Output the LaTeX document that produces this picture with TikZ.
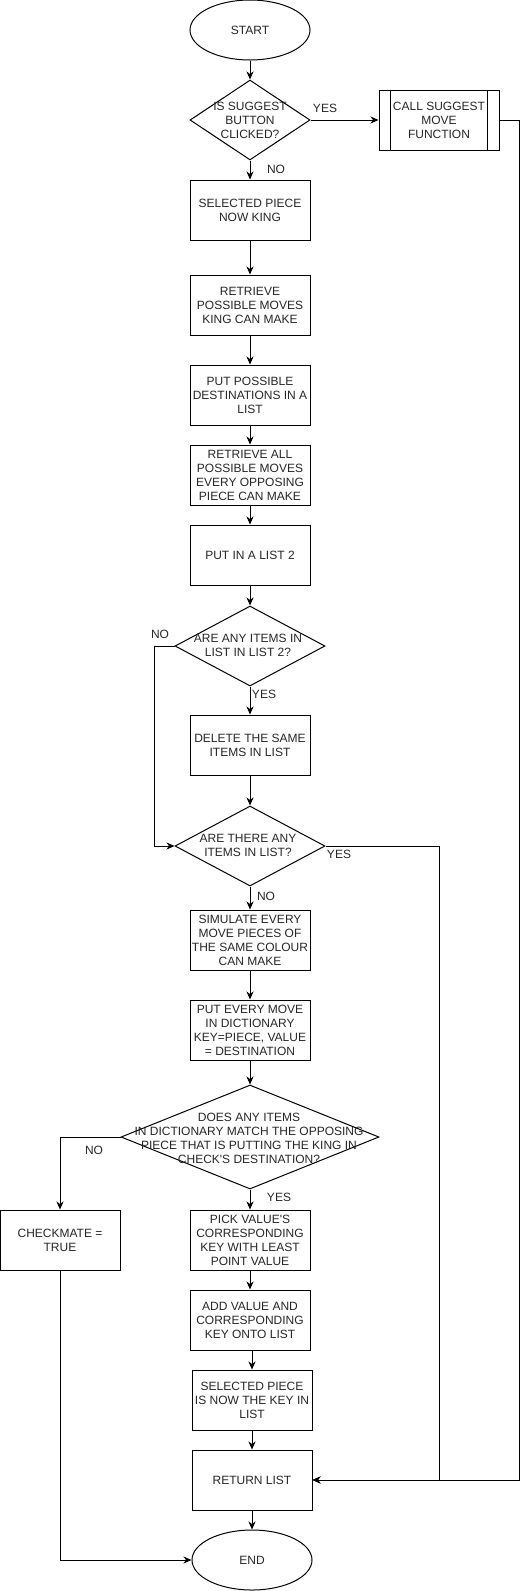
\documentclass[tikz,border=0pt]{standalone}
\usepackage{fontspec}
\setmainfont{Liberation Sans}
\usetikzlibrary{shapes.geometric,arrows.meta}
\begin{document}
\begin{tikzpicture}[x=1pt,y=-1pt,line width=1pt,
  >={Stealth[length=8pt,width=7pt,inset=2.5pt]},
  every node/.style={font=\fontsize{12}{14}\selectfont,text=black!85},
  box/.style={draw=black,rectangle,minimum width=120pt,minimum height=60pt,inner sep=0pt,align=center},
  term/.style={draw=black,ellipse,minimum width=120pt,minimum height=60pt,inner sep=0pt},
  dec/.style={draw=black,diamond,inner sep=0pt},
  dtext/.style={align=center,inner sep=0pt},
  lbl/.style={inner sep=0pt}]
\useasboundingbox (0,0) rectangle (528,1591);

\node[term] (start) at (250,30) {START};
\node[dec,minimum width=120pt,minimum height=80pt] (d1) at (250,120) {};
\node[dtext] (d1t) at (d1) {IS SUGGEST\\BUTTON\\CLICKED?};
\node[box] (call) at (439,120) {CALL SUGGEST\\MOVE\\FUNCTION};
\draw ([xshift=12pt]call.north west) -- ([xshift=12pt]call.south west);
\draw ([xshift=-12pt]call.north east) -- ([xshift=-12pt]call.south east);
\node[box] (sel) at (250,210) {SELECTED PIECE\\NOW KING};
\node[box] (ret1) at (250,305) {RETRIEVE\\POSSIBLE MOVES\\KING CAN MAKE};
\node[box] (put1) at (250,395) {PUT POSSIBLE\\DESTINATIONS IN A\\LIST};
\node[box] (ret2) at (250,475) {RETRIEVE ALL\\POSSIBLE MOVES\\EVERY OPPOSING\\PIECE CAN MAKE};
\node[box] (put2) at (250,555) {PUT IN A LIST 2};
\node[dec,minimum width=150pt,minimum height=80pt] (d2) at (250,646) {};
\node[dtext] (d2t) at (248,645) {ARE ANY ITEMS IN\\LIST IN LIST 2?};
\node[box] (del) at (250,745) {DELETE THE SAME\\ITEMS IN LIST};
\node[dec,minimum width=150pt,minimum height=80pt] (d3) at (250,846) {};
\node[dtext] (d3t) at (248,845) {ARE THERE ANY\\ITEMS IN LIST?};
\node[box] (sim) at (250,940) {SIMULATE EVERY\\MOVE PIECES OF\\THE SAME COLOUR\\CAN MAKE};
\node[box] (putev) at (250,1030) {PUT EVERY MOVE\\IN DICTIONARY\\KEY=PIECE, VALUE\\= DESTINATION};
\node[dec,minimum width=258pt,minimum height=104pt] (d4) at (250,1137) {};
\node[dtext] (d4t) at (249,1138) {DOES ANY ITEMS\\IN DICTIONARY MATCH THE OPPOSING\\PIECE THAT IS PUTTING THE KING IN\\CHECK\textquotesingle S DESTINATION?};
\node[box] (chk) at (60,1240) {CHECKMATE =\\TRUE};
\node[box] (pick) at (250,1240) {PICK VALUE\textquotesingle S\\CORRESPONDING\\KEY WITH LEAST\\POINT VALUE};
\node[box] (add) at (250,1320) {ADD VALUE AND\\CORRESPONDING\\KEY ONTO LIST};
\node[box] (key) at (252,1400) {SELECTED PIECE\\IS NOW THE KEY IN\\LIST};
\node[box] (ret) at (252,1480) {RETURN LIST};
\node[term] (end) at (252,1560) {END};

\coordinate (n2) at (154,646);
\coordinate (y3) at (439,846);
\coordinate (c1) at (519,120);

\draw[->] (start) -- (d1);
\draw[->] (d1) -- (call);
\draw[->] (d1) -- (sel);
\draw[->] (sel) -- (ret1);
\draw[->] (ret1) -- (put1);
\draw[->] (put1) -- (ret2);
\draw[->] (ret2) -- (put2);
\draw[->] (put2) -- (d2);
\draw[->] (d2) -- (del);
\draw[->] (d2.west) -- (n2) |- (d3.west);
\draw[->] (del) -- (d3);
\draw[->] (d3.east) -- (y3) |- (ret.east);
\draw[->] (call.east) -- (c1) |- (ret.east);
\draw[->] (d3) -- (sim);
\draw[->] (sim) -- (putev);
\draw[->] (putev) -- (d4);
\draw[->] (d4.west) -| (chk.north);
\draw[->] (d4) -- (pick);
\draw[->] (pick) -- (add);
\draw[->] (key.north |- add.south) -- (key.north);
\draw[->] (key) -- (ret);
\draw[->] (ret) -- (end);
\draw[->] (chk.south) |- (end.west);

\node[lbl] (l1) at (325,108) {YES};
\node[lbl] (l2) at (276,169) {NO};
\node[lbl] (l3) at (160,634) {NO};
\node[lbl] (l4) at (264,694) {YES};
\node[lbl] (l5) at (339,854) {YES};
\node[lbl] (l6) at (266,896) {NO};
\node[lbl] (l7) at (94,1150) {NO};
\node[lbl] (l8) at (279,1197) {YES};
\end{tikzpicture}
\end{document}
